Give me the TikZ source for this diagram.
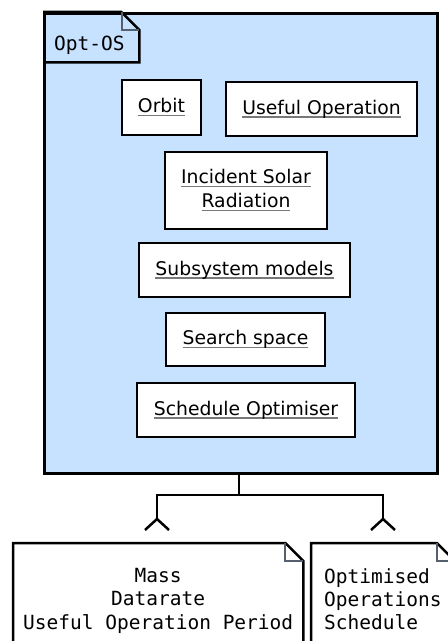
\documentclass[tikz,border=0pt]{standalone}
\usepackage{fontspec}
\setmainfont{DejaVu Sans}
\newfontfamily\monofont{DejaVu Sans Mono}
\definecolor{pkgblue}{RGB}{199,226,255}
\definecolor{ulgray}{RGB}{120,120,120}
\definecolor{foldgray}{RGB}{85,95,110}
\newcommand\ulbox[1]{\setbox0\hbox{#1}\rlap{\textcolor{ulgray}{\rule[-3.5bp]{\wd0}{1.6bp}}}\box0}
\tikzset{
  classbox/.style={draw, line width=2.5bp, fill=white, inner sep=0pt, align=center,
    font=\fontsize{18.8bp}{24bp}\selectfont},
  notebox/.style={inner ysep=25bp, anchor=north west,
    font=\monofont\fontsize{19.5bp}{23.3bp}\selectfont},
  outline/.style={line width=2.5bp, line join=miter},
  fold/.style={line width=2bp, draw=foldgray},
  conn/.style={line width=2.5bp}
}
\begin{document}
\begin{tikzpicture}[x=1bp,y=-1bp]
\useasboundingbox (0,0) rectangle (448,641);
\clip (0,0) rectangle (448,641);
\fill[white] (0,0) rectangle (448,641);

% package
\node[draw, line width=3bp, fill=pkgblue, minimum width=393bp, minimum height=460bp,
      inner sep=0pt, anchor=north west] (pkg) at (43,12) {};

% tab
\node[anchor=north west, inner xsep=11bp, inner ysep=8bp, text width=74bp, align=left,
      text height=30bp, text depth=4bp,
      font=\monofont\fontsize{19.5bp}{23.3bp}\selectfont] (tab) at (pkg.north west) {Opt-OS};
\draw[outline] (tab.north west) -- ([xshift=-18bp]tab.north east)
  -- ([yshift=-18bp]tab.north east) -- (tab.south east) -- (tab.south west);
\draw[fold] ([xshift=-17bp]tab.north east) |- ([yshift=-18bp]tab.north east);

% classes
\node[classbox, minimum width=79bp, minimum height=55bp] (orbit) at (161.5,107.5) {\ulbox{Orbit}};
\node[classbox, minimum width=191bp, minimum height=54bp] (useful) at (321.5,109) {\ulbox{Useful Operation}};
\node[classbox, minimum width=162bp, minimum height=77bp] (solar) at (246,190.5) {\ulbox{Incident Solar}\\\ulbox{Radiation}};
\node[classbox, minimum width=211bp, minimum height=54bp] (subsys) at (244.5,270) {\ulbox{Subsystem models}};
\node[classbox, minimum width=159bp, minimum height=53bp] (search) at (245.5,339.5) {\ulbox{Search space}};
\node[classbox, minimum width=218bp, minimum height=54bp] (sched) at (246,410) {\ulbox{Schedule Optimiser}};

% notes
\node[notebox, minimum width=290bp, align=center] (n1) at (13,543)
  {Mass\\Datarate\\Useful Operation Period};
\draw[outline] (n1.south west) -- (n1.north west) -- ([xshift=-18bp]n1.north east)
  -- ([yshift=-18bp]n1.north east) -- (n1.south east);
\draw[fold] ([xshift=-18bp]n1.north east) |- ([yshift=-18bp]n1.north east);

\node[notebox, inner xsep=13bp, align=left] (n2) at (311,543)
  {Optimised\\Operations\\Schedule};
\draw[outline] (n2.south west) -- (n2.north west) -- ([xshift=-18bp]n2.north east)
  -- ([yshift=-18bp]n2.north east) -- (n2.south east);
\draw[fold] ([xshift=-18bp]n2.north east) |- ([yshift=-18bp]n2.north east);

% connectors
\coordinate (j) at (239,495);
\coordinate (tl) at (157,519);
\coordinate (tr) at (383,519);
\draw[conn] (pkg.south -| j) -- (j);
\draw[conn] (j) -| (tl);
\draw[conn] (j) -| (tr);
\draw[conn] ([xshift=-12bp,yshift=-11bp]tl) -- (tl) -- ([xshift=12bp,yshift=-11bp]tl);
\draw[conn] ([xshift=-12bp,yshift=-11bp]tr) -- (tr) -- ([xshift=12bp,yshift=-11bp]tr);
\end{tikzpicture}
\end{document}
